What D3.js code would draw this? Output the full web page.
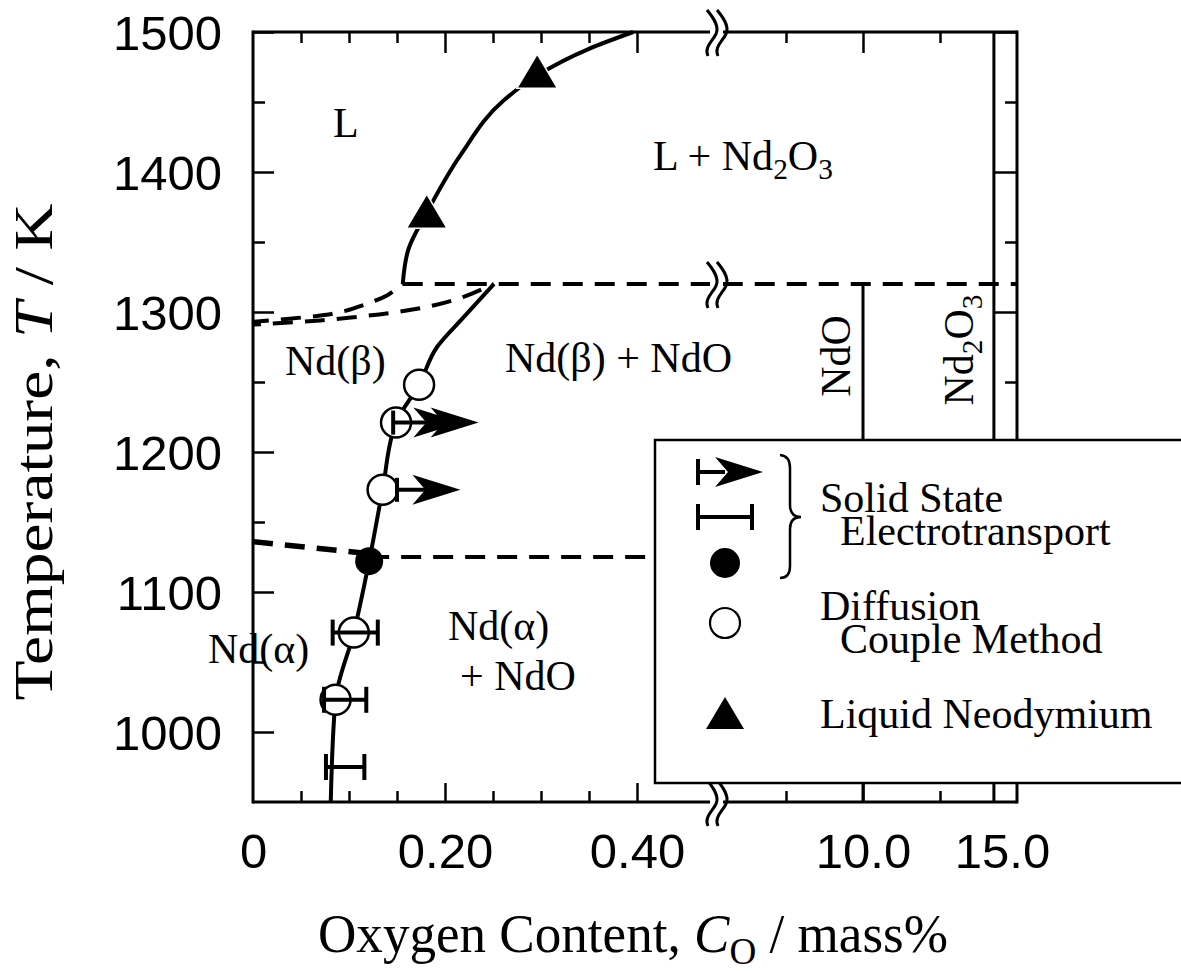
<!DOCTYPE html>
<html><head><meta charset="utf-8">
<script src="https://cdn.jsdelivr.net/npm/d3@7/dist/d3.min.js"></script>
<style>body{margin:0;background:#fff}svg{display:block}</style>
</head><body>
<svg id="c" width="1181" height="972"></svg>
<script>
// ---------- data ----------
const yMajorTicks = [1000, 1100, 1200, 1300, 1400, 1500];
const yMinorTicks = [1050, 1150, 1250, 1350, 1450];
const xMajorTicks = [0.20, 0.40, 10.0];
const xMinorTicks = [0.05, 0.10, 0.15, 0.25, 0.30, 0.35, 7.5, 12.5];
const xLabelValues = [0, 0.20, 0.40, 10.0, 15.0];
const xLabelText = ["0", "0.20", "0.40", "10.0", "15.0"];

// liquidus (L / L + Nd2O3)
const liquidusC = [0.156, 0.162, 0.181, 0.217, 0.261, 0.296, 0.35, 0.396];
const liquidusT = [1320, 1345, 1371, 1413, 1451, 1469, 1488, 1500];
// solvus Nd(alpha/beta) / + NdO
const solvusC = [0.081, 0.086, 0.105, 0.121, 0.135, 0.149, 0.173, 0.1917, 0.219, 0.251];
const solvusT = [950, 1023, 1071, 1122, 1173, 1221, 1248, 1275, 1296, 1320];
// dashed boundaries
const dashUpperC = [0, 0.05, 0.085, 0.115, 0.14, 0.156];
const dashUpperT = [1293, 1296, 1299, 1305, 1312, 1320];
const dashLowerC = [0, 0.07, 0.15, 0.19, 0.22, 0.251];
const dashLowerT = [1291, 1294, 1300, 1305, 1311, 1320];
const dashLeft1125C = [0, 0.112];
const dashLeft1125T = [1136, 1128];
const iso1320C = [0.156, 15.0];
const iso1125C = [0.121, 15.0];
const ndoC = 10.0;
const nd2o3C = 14.25;

// measured points
const openC = [0.173, 0.149, 0.135, 0.105, 0.086];
const openT = [1248, 1221, 1173, 1071, 1023];
const filledC = [0.121];
const filledT = [1122];
const triC = [0.181, 0.296];
const triT = [1371, 1471];
// two-sided error bars
const barT = [1071, 1023, 975];
const barLo = [0.083, 0.074, 0.076];
const barHi = [0.130, 0.118, 0.116];
// lower-bound arrows
const arrowT = [1221, 1173];
const arrowLo = [0.146, 0.150];
const arrowTip = [0.235, 0.216];
const arrowTip2 = [0.217, null];

// ---------- scales ----------
const svg = d3.select("#c");
const x = d3.scaleLinear().domain([0, 0.475, 5.0, 15.0]).range([253, 709, 709, 1017]);
const y = d3.scaleLinear().domain([950, 1500]).range([802, 32]);
const serif = "'Liberation Serif','Times New Roman',serif";
const sans = "'Liberation Sans',Arial,Helvetica,sans-serif";

const g = svg.append("g");

// ---------- frame ----------
const frame = g.append("g").attr("stroke", "#000").attr("stroke-width", 3).attr("fill", "none");
frame.append("line").attr("x1", x(0)).attr("x2", x(0)).attr("y1", y(950) + 1.5).attr("y2", y(1500) - 1.5);
frame.append("line").attr("x1", x(0)).attr("x2", x(15)).attr("y1", y(1500)).attr("y2", y(1500));
frame.append("line").attr("x1", x(0)).attr("x2", x(15)).attr("y1", y(950)).attr("y2", y(950));
frame.append("line").attr("x1", x(15)).attr("x2", x(15)).attr("y1", y(950) + 1.5).attr("y2", y(1500) - 1.5);
frame.append("line").attr("x1", x(nd2o3C)).attr("x2", x(nd2o3C)).attr("y1", y(950)).attr("y2", y(1500));
frame.append("line").attr("x1", x(ndoC)).attr("x2", x(ndoC)).attr("y1", y(950)).attr("y2", y(1320));

// ---------- ticks ----------
function styleAxis(sel) {
  sel.select(".domain").remove();
  sel.selectAll(".tick line").attr("stroke", "#000").attr("stroke-width", 2.5);
}
g.append("g").attr("transform", `translate(${x(0)},0)`)
  .call(d3.axisLeft(y).tickValues(yMajorTicks).tickSizeInner(-21).tickSizeOuter(0).tickPadding(31).tickFormat(d3.format("d")))
  .call(styleAxis)
  .call(s => s.selectAll("text").attr("font-family", sans).attr("font-size", 49).attr("fill", "#000").attr("dy", "0.36em"));
g.append("g").attr("transform", `translate(${x(0)},0)`)
  .call(d3.axisLeft(y).tickValues(yMinorTicks).tickSizeInner(-12).tickSizeOuter(0).tickFormat(""))
  .call(styleAxis);
g.append("g").attr("transform", `translate(${x(15)},0)`)
  .call(d3.axisLeft(y).tickValues(yMajorTicks).tickSizeInner(23).tickSizeOuter(0).tickFormat(""))
  .call(styleAxis);
g.append("g").attr("transform", `translate(${x(15)},0)`)
  .call(d3.axisLeft(y).tickValues(yMinorTicks).tickSizeInner(12).tickSizeOuter(0).tickFormat(""))
  .call(styleAxis);

g.append("g").attr("transform", `translate(0,${y(950)})`)
  .call(d3.axisBottom(x).tickValues(xMajorTicks).tickSizeInner(-19).tickSizeOuter(0).tickFormat(""))
  .call(styleAxis);
g.append("g").attr("transform", `translate(0,${y(950)})`)
  .call(d3.axisBottom(x).tickValues(xMinorTicks).tickSizeInner(-11).tickSizeOuter(0).tickFormat(""))
  .call(styleAxis);
g.append("g").attr("transform", `translate(0,${y(950)})`)
  .call(d3.axisBottom(x).tickValues(xLabelValues).tickSize(0).tickPadding(31)
    .tickFormat((d, i) => xLabelText[i]))
  .call(styleAxis)
  .call(s => s.selectAll("text").attr("font-family", sans).attr("font-size", 49).attr("fill", "#000")
    .attr("dx", d => d === 15.0 ? -15 : 0));
g.append("g").attr("transform", `translate(0,${y(1500)})`)
  .call(d3.axisTop(x).tickValues(xMajorTicks).tickSizeInner(-21).tickSizeOuter(0).tickFormat(""))
  .call(styleAxis);
g.append("g").attr("transform", `translate(0,${y(1500)})`)
  .call(d3.axisTop(x).tickValues(xMinorTicks).tickSizeInner(-11).tickSizeOuter(0).tickFormat(""))
  .call(styleAxis);

// ---------- boundaries ----------
const smooth = d3.line().x(d => x(d[0])).y(d => y(d[1])).curve(d3.curveMonotoneY);
const curve = d3.line().x(d => x(d[0])).y(d => y(d[1])).curve(d3.curveCatmullRom.alpha(0.5));
const straight = d3.line().x(d => x(d[0])).y(d => y(d[1]));
const zip = (a, b) => a.map((v, i) => [v, b[i]]);

const dashed = g.append("g").attr("fill", "none").attr("stroke", "#000").attr("stroke-width", 4)
  .attr("stroke-dasharray", "20,12");
dashed.append("path").attr("d", straight(iso1320C.map(c => [c, 1320])));
dashed.append("path").attr("d", straight(iso1125C.map(c => [c, 1125])));
dashed.append("path").attr("d", curve(zip(dashUpperC, dashUpperT))).attr("stroke-dashoffset", 4);
dashed.append("path").attr("d", curve(zip(dashLowerC, dashLowerT))).attr("stroke-dashoffset", 12);
dashed.append("path").attr("d", straight(zip(dashLeft1125C, dashLeft1125T))).attr("stroke-width", 5.5);

const solid = g.append("g").attr("fill", "none").attr("stroke", "#000").attr("stroke-width", 4);
solid.append("path").attr("d", smooth(zip(liquidusC, liquidusT)));
solid.append("path").attr("d", smooth(zip(solvusC, solvusT)));

// ---------- axis breaks ----------
function brk(yc) {
  const b = g.append("g");
  b.append("rect").attr("x", 710).attr("y", yc - 5).attr("width", 13).attr("height", 10).attr("fill", "#fff");
  [708, 718].forEach(x0 => {
    b.append("path")
      .attr("d", `M${x0 - 1},${yc - 22} C${x0 + 4},${yc - 16} ${x0 + 12},${yc - 6} ${x0 + 8},${yc + 2} C${x0 + 4},${yc + 10} ${x0 - 4},${yc + 15} ${x0},${yc + 24}`)
      .attr("fill", "none").attr("stroke", "#000").attr("stroke-width", 3);
  });
}
brk(y(1500)); brk(y(1320)); brk(y(950));

// ---------- markers ----------
const mk = g.append("g");
function arrowHead(sel, tx, ty) {
  sel.append("path").attr("d", `M${tx},${ty} L${tx - 48},${ty - 15} L${tx - 35},${ty} L${tx - 48},${ty + 15} Z`)
    .attr("fill", "#000");
}
mk.selectAll("circle.open").data(zip(openC, openT)).join("circle")
  .attr("cx", d => x(d[0])).attr("cy", d => y(d[1])).attr("r", 15)
  .attr("fill", "#fff").attr("stroke", "#000").attr("stroke-width", 2.5);
mk.selectAll("circle.fill").data(zip(filledC, filledT)).join("circle")
  .attr("cx", d => x(d[0])).attr("cy", d => y(d[1])).attr("r", 14).attr("fill", "#000");
mk.selectAll("path.tri").data(zip(triC, triT)).join("path")
  .attr("d", d => { const cx = x(d[0]), cy = y(d[1]); return `M${cx},${cy - 17} L${cx + 19},${cy + 15} L${cx - 19},${cy + 15} Z`; })
  .attr("fill", "#000").attr("stroke", "#fff").attr("stroke-width", 3).attr("paint-order", "stroke");

const eb = mk.append("g").attr("stroke", "#000").attr("stroke-width", 4).attr("fill", "none");
barT.forEach((t, i) => {
  const yy = y(t), a = x(barLo[i]), b = x(barHi[i]);
  eb.append("line").attr("x1", a).attr("x2", b).attr("y1", yy).attr("y2", yy);
  eb.append("line").attr("x1", a).attr("x2", a).attr("y1", yy - 13).attr("y2", yy + 13);
  eb.append("line").attr("x1", b).attr("x2", b).attr("y1", yy - 13).attr("y2", yy + 13);
});
arrowT.forEach((t, i) => {
  const yy = y(t), a = x(arrowLo[i]), tip = x(arrowTip[i]);
  eb.append("line").attr("x1", a).attr("x2", tip - 30).attr("y1", yy).attr("y2", yy);
  eb.append("line").attr("x1", a).attr("x2", a).attr("y1", yy - 12).attr("y2", yy + 12);
  arrowHead(mk, tip, yy);
  if (arrowTip2[i] !== null) arrowHead(mk, x(arrowTip2[i]), yy);
});

// ---------- text helper ----------
function addText(parent, xx, yy, parts, opts = {}) {
  const t = parent.append("text").attr("x", xx).attr("y", yy);
  if (opts.anchor) t.attr("text-anchor", opts.anchor);
  if (opts.transform) t.attr("transform", opts.transform).attr("x", 0).attr("y", 0);
  let pendingDy = null;
  parts.forEach(p => {
    const isStr = typeof p === "string";
    const isSub = !isStr && p.sub !== undefined;
    let s;
    if (isStr) s = t.append("tspan").text(p);
    else if (isSub) s = t.append("tspan").attr("font-size", "0.7em").attr("dy", "0.32em").text(p.sub);
    else s = t.append("tspan").attr("font-style", "italic").text(p.it);
    if (!isSub && pendingDy !== null) { s.attr("dy", pendingDy); pendingDy = null; }
    if (isSub) pendingDy = "-0.224em";
  });
  return t;
}

// ---------- region labels ----------
const lab = g.append("g").attr("font-family", serif).attr("font-size", 42).attr("fill", "#000");
addText(lab, 333, 137, ["L"]);
addText(lab, 653, 170, ["L + Nd", {sub: "2"}, "O", {sub: "3"}]);
addText(lab, 285, 375, ["Nd(\u03b2)"]);
addText(lab, 505, 372, ["Nd(\u03b2) + NdO"]);
addText(lab, 208, 663, ["Nd(\u03b1)"]);
addText(lab, 448, 640, ["Nd(\u03b1)"]);
addText(lab, 460, 690, ["+ NdO"]);
addText(lab, 0, 0, ["NdO"], {anchor: "middle", transform: "translate(850,356) rotate(-90)"});
addText(lab, 0, 0, ["Nd", {sub: "2"}, "O", {sub: "3"}], {anchor: "middle", transform: "translate(973,350) rotate(-90)"});

// ---------- legend ----------
const lg = g.append("g");
lg.append("rect").attr("x", 655).attr("y", 440).attr("width", 560).attr("height", 343)
  .attr("fill", "#fff").attr("stroke", "#000").attr("stroke-width", 2.5);
const lgs = lg.append("g").attr("stroke", "#000").attr("stroke-width", 4).attr("fill", "none");
lgs.append("line").attr("x1", 698).attr("x2", 698).attr("y1", 459).attr("y2", 485);
lgs.append("line").attr("x1", 698).attr("x2", 725).attr("y1", 472).attr("y2", 472);
arrowHead(lg, 763, 472);
lgs.append("line").attr("x1", 698).attr("x2", 752).attr("y1", 517).attr("y2", 517);
lgs.append("line").attr("x1", 698).attr("x2", 698).attr("y1", 504).attr("y2", 530);
lgs.append("line").attr("x1", 752).attr("x2", 752).attr("y1", 504).attr("y2", 530);
lg.append("circle").attr("cx", 725).attr("cy", 563).attr("r", 15).attr("fill", "#000");
lg.append("circle").attr("cx", 725).attr("cy", 623).attr("r", 15).attr("fill", "#fff").attr("stroke", "#000").attr("stroke-width", 2.2);
lg.append("path").attr("d", "M725,697 L744,729 L706,729 Z").attr("fill", "#000");
lg.append("path").attr("d", "M780,455 Q790,456 790,468 L790,505 Q790,517 801,517 Q790,517 790,529 L790,566 Q790,578 780,578")
  .attr("fill", "none").attr("stroke", "#000").attr("stroke-width", 2.5);
const lt = lg.append("g").attr("font-family", serif).attr("font-size", 42).attr("fill", "#000");
lt.append("text").attr("x", 820).attr("y", 512).text("Solid State");
lt.append("text").attr("x", 840).attr("y", 545).text("Electrotransport");
lt.append("text").attr("x", 820).attr("y", 620).text("Diffusion");
lt.append("text").attr("x", 840).attr("y", 653).text("Couple Method");
lt.append("text").attr("x", 820).attr("y", 728).text("Liquid Neodymium");

// ---------- axis titles ----------
const tt = g.append("g").attr("font-family", serif).attr("font-size", 54).attr("fill", "#000");
addText(tt, 0, 0, ["Temperature, ", {it: "T"}, " / K"], {anchor: "middle", transform: "translate(52,452) rotate(-90)"})
  .attr("textLength", 497).attr("lengthAdjust", "spacingAndGlyphs");
addText(tt, 633, 952, ["Oxygen Content, ", {it: "C"}, {sub: "O"}, " / mass%"], {anchor: "middle"})
  .attr("textLength", 630).attr("lengthAdjust", "spacingAndGlyphs");
</script>
</body></html>
